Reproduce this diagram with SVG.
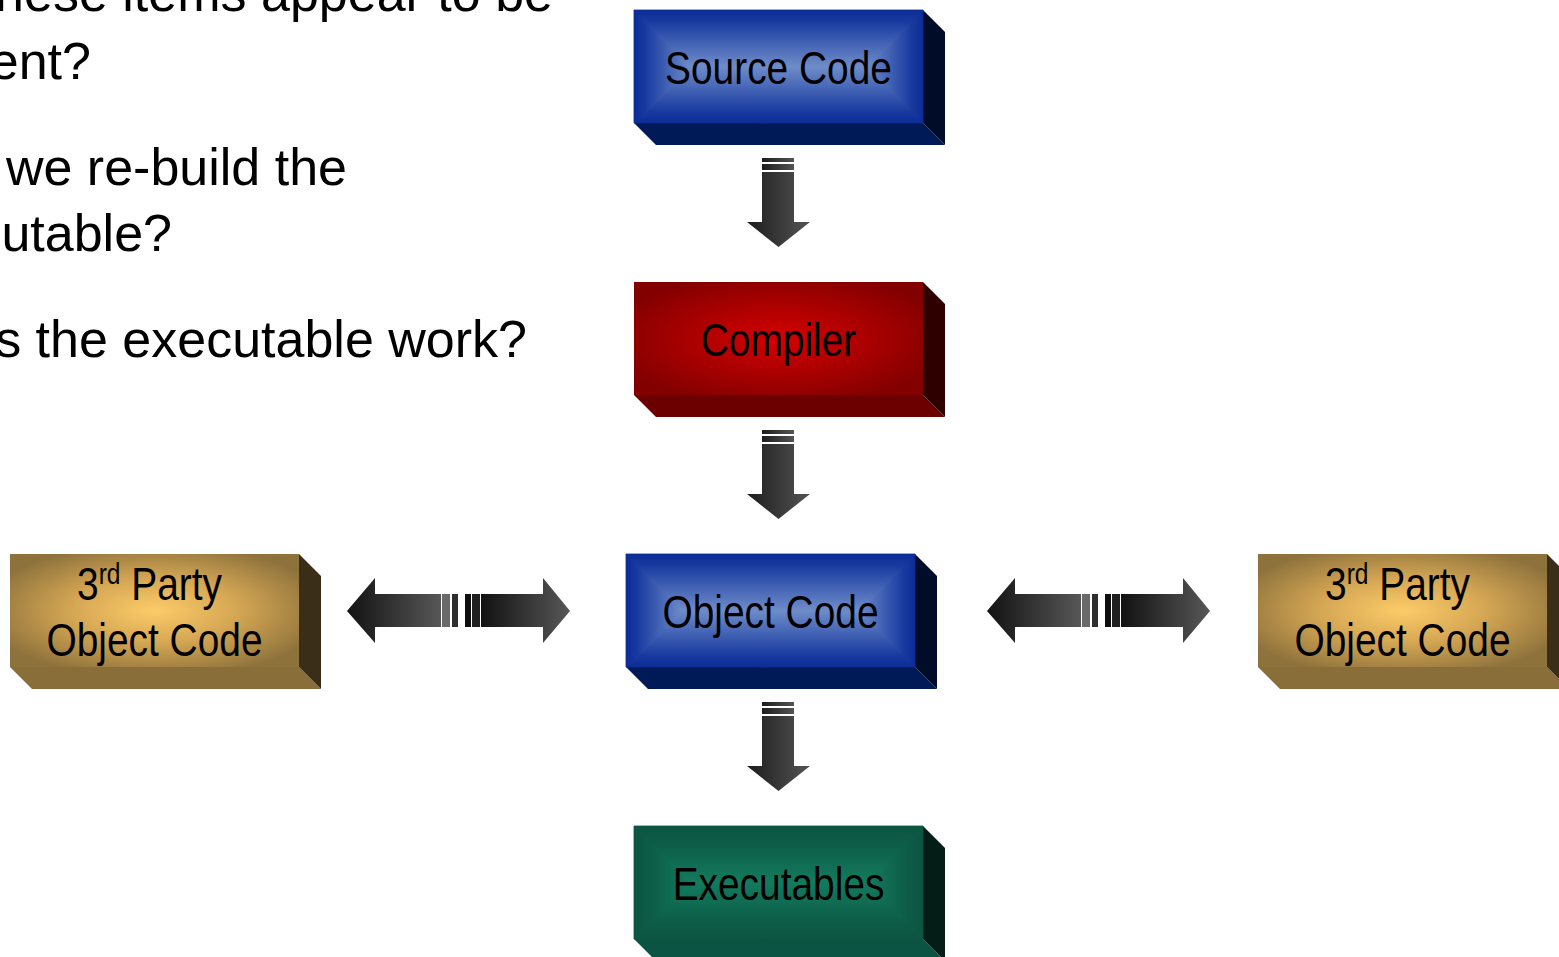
<svg xmlns="http://www.w3.org/2000/svg" width="1559" height="957" viewBox="0 0 1559 957">
<style>
.q{font-family:"Liberation Sans",Arial,sans-serif;font-size:52px;fill:#000;text-anchor:end}
.lb{font-family:"Liberation Sans",Arial,sans-serif;font-size:46px;fill:#000;text-anchor:middle}
.sup{font-size:29px}
.sep{stroke:#ffffff;stroke-width:1}
</style>
<defs>
<linearGradient id="bT" x1="0" y1="0" x2="0" y2="1"><stop offset="0" stop-color="#0b2c95"/><stop offset="0.2" stop-color="#183aa0"/><stop offset="1" stop-color="#6f8cc9"/></linearGradient>
<linearGradient id="bB" x1="0" y1="1" x2="0" y2="0"><stop offset="0" stop-color="#0b2c95"/><stop offset="0.2" stop-color="#183aa0"/><stop offset="1" stop-color="#6f8cc9"/></linearGradient>
<linearGradient id="bL" x1="0" y1="0" x2="1" y2="0"><stop offset="0" stop-color="#0b2c95"/><stop offset="0.2" stop-color="#183aa0"/><stop offset="1" stop-color="#6f8cc9"/></linearGradient>
<linearGradient id="bR" x1="1" y1="0" x2="0" y2="0"><stop offset="0" stop-color="#0b2c95"/><stop offset="0.2" stop-color="#183aa0"/><stop offset="1" stop-color="#6f8cc9"/></linearGradient>
<linearGradient id="gT" x1="0" y1="0" x2="0" y2="1"><stop offset="0" stop-color="#0c5542"/><stop offset="0.3" stop-color="#0d5c47"/><stop offset="1" stop-color="#137b5e"/></linearGradient>
<linearGradient id="gB" x1="0" y1="1" x2="0" y2="0"><stop offset="0" stop-color="#0c5542"/><stop offset="0.3" stop-color="#0d5c47"/><stop offset="1" stop-color="#137b5e"/></linearGradient>
<linearGradient id="gL" x1="0" y1="0" x2="1" y2="0"><stop offset="0" stop-color="#0c5542"/><stop offset="0.3" stop-color="#0d5c47"/><stop offset="1" stop-color="#137b5e"/></linearGradient>
<linearGradient id="gR" x1="1" y1="0" x2="0" y2="0"><stop offset="0" stop-color="#0c5542"/><stop offset="0.3" stop-color="#0d5c47"/><stop offset="1" stop-color="#137b5e"/></linearGradient>
<radialGradient id="bBase" cx="0.5" cy="0.5" r="0.6"><stop offset="0" stop-color="#6f8cc9"/><stop offset="1" stop-color="#183aa0"/></radialGradient>
<radialGradient id="gBase" cx="0.5" cy="0.5" r="0.6"><stop offset="0" stop-color="#137b5e"/><stop offset="1" stop-color="#0d5c47"/></radialGradient>
<radialGradient id="rF" cx="0.5" cy="0.5" r="0.6"><stop offset="0" stop-color="#d40000"/><stop offset="0.45" stop-color="#b00000"/><stop offset="1" stop-color="#820000"/></radialGradient>
<radialGradient id="oF" cx="0.5" cy="0.5" r="0.6"><stop offset="0" stop-color="#fccb68"/><stop offset="0.45" stop-color="#d8a955"/><stop offset="1" stop-color="#8e723c"/></radialGradient>
<linearGradient id="aH" x1="0" y1="0" x2="1" y2="0"><stop offset="0" stop-color="#121212"/><stop offset="1" stop-color="#575757"/></linearGradient>
<linearGradient id="aV" x1="0" y1="0" x2="1" y2="0"><stop offset="0" stop-color="#1c1c1c"/><stop offset="1" stop-color="#545454"/></linearGradient>
<g id="downArrow">
<rect x="762" y="0" width="32" height="4" fill="url(#aV)"/>
<rect x="762" y="6" width="32" height="6" fill="url(#aV)"/>
<polygon points="762,14 794,14 794,64 810,64 778.5,89 747,64 762,64" fill="url(#aV)"/>
<line class="sep" x1="762" y1="5" x2="794" y2="5"/>
<line class="sep" x1="762" y1="13" x2="794" y2="13"/>
</g>
<g id="dblArrow">
<polygon points="0,33 28,0 28,16 94,16 94,49 28,49 28,65" fill="url(#aH)"/>
<rect x="95" y="16" width="8" height="33" fill="#6a6a6a"/>
<rect x="105" y="16" width="6" height="33" fill="#2e2e2e"/>
<rect x="118" y="16" width="6" height="33" fill="#0e0e0e"/>
<rect x="125" y="16" width="8" height="33" fill="#202020"/>
<polygon points="134,16 196,16 196,0 223,33 196,65 196,49 134,49" fill="url(#aH)"/>
<g class="sep">
<line x1="94.5" y1="16" x2="94.5" y2="49"/>
<line x1="104" y1="16" x2="104" y2="49"/>
<line x1="111.5" y1="16" x2="111.5" y2="49"/>
<line x1="124.5" y1="16" x2="124.5" y2="49"/>
<line x1="133.5" y1="16" x2="133.5" y2="49"/>
</g>
</g>
<g id="blueFront">
<rect x="0" y="0" width="289" height="113" fill="url(#bBase)"/>
<polygon points="0,0 289,0 232.5,56.5 56.5,56.5" fill="url(#bT)" stroke="url(#bT)" stroke-width="0.8"/>
<polygon points="0,113 289,113 232.5,56.5 56.5,56.5" fill="url(#bB)" stroke="url(#bB)" stroke-width="0.8"/>
<polygon points="0,0 56.5,56.5 0,113" fill="url(#bL)" stroke="url(#bL)" stroke-width="0.8"/>
<polygon points="289,0 232.5,56.5 289,113" fill="url(#bR)" stroke="url(#bR)" stroke-width="0.8"/>
</g>
<g id="greenFront">
<rect x="0" y="0" width="289" height="113" fill="url(#gBase)"/>
<polygon points="0,0 289,0 232.5,56.5 56.5,56.5" fill="url(#gT)" stroke="url(#gT)" stroke-width="0.8"/>
<polygon points="0,113 289,113 232.5,56.5 56.5,56.5" fill="url(#gB)" stroke="url(#gB)" stroke-width="0.8"/>
<polygon points="0,0 56.5,56.5 0,113" fill="url(#gL)" stroke="url(#gL)" stroke-width="0.8"/>
<polygon points="289,0 232.5,56.5 289,113" fill="url(#gR)" stroke="url(#gR)" stroke-width="0.8"/>
</g>
</defs>

<g id="question-text">
<text class="q" x="553" y="11">hese items appear to be</text>
<text class="q" x="91" y="79">ent?</text>
<text class="q" x="347" y="185">we re-build the</text>
<text class="q" x="172" y="251">utable?</text>
<text class="q" x="527" y="357">s the executable work?</text>
</g>

<g id="connectors">
<use href="#downArrow" transform="translate(0,158)"/>
<use href="#downArrow" transform="translate(0,430)"/>
<use href="#downArrow" transform="translate(0,702)"/>
<use href="#dblArrow" transform="translate(347,578)"/>
<use href="#dblArrow" transform="translate(987,578)"/>
</g>

<g id="source-code" transform="translate(634,10)">
<polygon points="0,113 289,113 311,135 22,135" fill="#001a58"/>
<polygon points="289,0 311,22 311,135 289,113" fill="#000c28"/>
<use href="#blueFront"/>
<text class="lb" transform="translate(144.5,74) scale(0.845,1)">Source Code</text>
</g>

<g id="compiler" transform="translate(634,282)">
<polygon points="0,113 289,113 311,135 22,135" fill="#6c0000"/>
<polygon points="289,0 311,22 311,135 289,113" fill="#2e0000"/>
<rect x="0" y="0" width="289" height="113" fill="url(#rF)"/>
<text class="lb" transform="translate(144.5,74) scale(0.845,1)">Compiler</text>
</g>

<g id="object-code" transform="translate(626,554)">
<polygon points="0,113 289,113 311,135 22,135" fill="#001a58"/>
<polygon points="289,0 311,22 311,135 289,113" fill="#000c28"/>
<use href="#blueFront"/>
<text class="lb" transform="translate(144.5,74) scale(0.845,1)">Object Code</text>
</g>

<g id="executables" transform="translate(634,826)">
<polygon points="0,113 289,113 311,135 22,135" fill="#0b5342"/>
<polygon points="289,0 311,22 311,135 289,113" fill="#041d17"/>
<use href="#greenFront"/>
<text class="lb" transform="translate(144.5,74) scale(0.845,1)">Executables</text>
</g>

<g id="third-party-left" transform="translate(10,554)">
<polygon points="0,113 289,113 311,135 22,135" fill="#8a6e3a"/>
<polygon points="289,0 311,22 311,135 289,113" fill="#3a2e18"/>
<rect x="0" y="0" width="289" height="113" fill="url(#oF)"/>
<text class="lb" transform="translate(139.5,46) scale(0.845,1)">3<tspan class="sup" dy="-16">rd</tspan><tspan dy="16"> Party</tspan></text>
<text class="lb" transform="translate(144.5,102) scale(0.845,1)">Object Code</text>
</g>

<g id="third-party-right" transform="translate(1258,554)">
<polygon points="0,113 289,113 311,135 22,135" fill="#8a6e3a"/>
<polygon points="289,0 311,22 311,135 289,113" fill="#3a2e18"/>
<rect x="0" y="0" width="289" height="113" fill="url(#oF)"/>
<text class="lb" transform="translate(139.5,46) scale(0.845,1)">3<tspan class="sup" dy="-16">rd</tspan><tspan dy="16"> Party</tspan></text>
<text class="lb" transform="translate(144.5,102) scale(0.845,1)">Object Code</text>
</g>
</svg>
